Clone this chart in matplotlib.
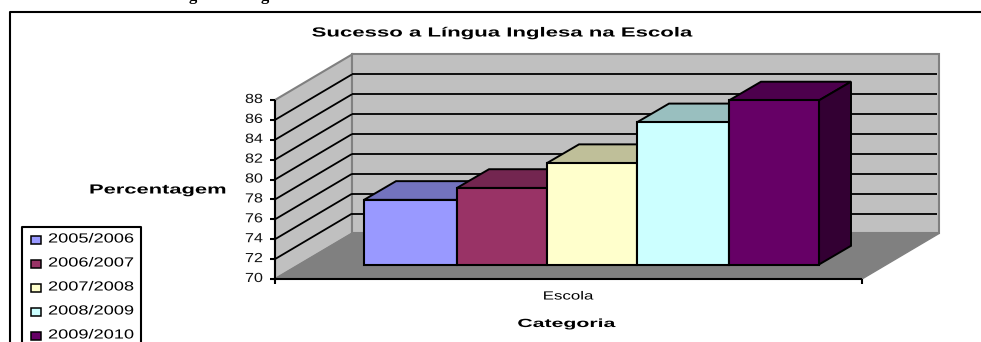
import matplotlib
matplotlib.use("Agg")
import matplotlib.pyplot as plt
from matplotlib.patches import Polygon, Rectangle
from matplotlib.patheffects import AbstractPathEffect
from matplotlib.transforms import Affine2D

W, H = 981, 342

seasons = ["2005/2006", "2006/2007", "2007/2008", "2008/2009", "2009/2010"]
values = [76.5, 77.7, 80.2, 84.3, 86.5]
bar_colors = ["#9999FF", "#993366", "#FFFFCC", "#CCFFFF", "#660066"]
top_colors = ["#7373BF", "#732650", "#BFBF99", "#99BFBF", "#4D004D"]
side_color = "#330033"
yticks = list(range(70, 90, 2))
category = "Escola"


class Stretch(AbstractPathEffect):
    # o texto original esta esticado na horizontal
    def __init__(self, sx, cx):
        super().__init__()
        self.sx, self.cx = sx, cx

    def draw_path(self, renderer, gc, tpath, affine, rgbFace=None):
        t = affine + Affine2D().translate(-self.cx, 0).scale(self.sx, 1).translate(self.cx, 0)
        renderer.draw_path(gc, tpath, t, rgbFace)


fig = plt.figure(figsize=(W / 100, H / 100), dpi=100, facecolor="white")
plt.rcParams["font.family"] = ["Liberation Sans", "DejaVu Sans"]

# eixo frontal: x 275..862 px, 70 em y=279 px, 88 em y=100 px
x0, x1, y70, y88 = 275, 862, 279, 100
ax = fig.add_axes([x0 / W, 1 - y70 / H, (x1 - x0) / W, (y70 - y88) / H])
ax.set_xlim(x0, x1)
ax.set_ylim(70, 88)
ax.axis("off")

unit = (y70 - y88) / 18.0
wall_dx = 77
wall_dy = 45.5 / unit


def P(x, v, d=0.0):
    # projeccao obliqua: d=0 frente, d=1 parede de tras
    return (x + d * wall_dx, v + d * wall_dy)


def poly(pts, fc, ec="black", lw=1.4, z=2):
    ax.add_patch(Polygon(pts, closed=True, fc=fc, ec=ec, lw=lw, zorder=z,
                         clip_on=False, joinstyle="miter"))


def line(a, b, c="black", lw=1.3, z=3):
    ax.plot([a[0], b[0]], [a[1], b[1]], color=c, lw=lw, zorder=z, clip_on=False,
            solid_capstyle="butt")


# paredes e chao
poly([P(x0, 70, 0), P(x0, 70, 1), P(x0, 88, 1), P(x0, 88, 0)], "#C0C0C0", "#808080", 1.5, 1)
poly([P(x0, 70, 1), P(x1, 70, 1), P(x1, 88, 1), P(x0, 88, 1)], "#C0C0C0", "#808080", 1.5, 1)
poly([P(x0, 70, 0), P(x1, 70, 0), P(x1, 70, 1), P(x0, 70, 1)], "#808080", "#808080", 1, 1.2)

for v in yticks[1:-1]:
    line(P(x0, v, 0), P(x0, v, 1), z=1.5)
    line(P(x0, v, 1), P(x1 - 2, v, 1), z=1.5)

# eixos
line(P(x0, 70), P(x1, 70), lw=1.5, z=6)
line(P(x0, 70), P(x0, 88), lw=1.5, z=6)
tick_px = 5 / unit
line((x0, 70), (x0, 70 - tick_px), lw=1.5, z=6)
line((x1, 70), (x1, 70 - tick_px), lw=1.5, z=6)
for v in yticks:
    line((x0 - 5, v), (x0, v), lw=1.5, z=6)
    t = ax.text(x0 - 12, v, str(v), ha="right", va="center", fontsize=9.5, color="#111111")
    t.set_path_effects([Stretch(1.22, x0 - 12)])

# barras
edges = [364, 457, 547, 637, 729, 819]
bar_base = 70 + 14.5 / unit
ddx = 32
ddy = 18.7 / unit
for i, val in enumerate(values):
    left, right = edges[i], edges[i + 1]
    fr = (right, bar_base)
    tl = (left, bar_base + val - 70)
    tr = (right, bar_base + val - 70)
    z = 2 + i * 0.1
    poly([tl, tr, (right + ddx, tr[1] + ddy), (left + ddx, tl[1] + ddy)], top_colors[i], z=z)
    poly([fr, tr, (right + ddx, tr[1] + ddy), (right + ddx, fr[1] + ddy)], side_color, z=z)
    ax.add_patch(Rectangle((left, bar_base), right - left, val - 70, fc=bar_colors[i],
                           ec="black", lw=1.5, zorder=z + 0.05, clip_on=False))


def ftext(px, py, s, size, weight="normal", ha="center", sx=1.0, family=None):
    t = fig.text(px / W, 1 - py / H, s, fontsize=size, fontweight=weight, ha=ha, va="center",
                 color="black", family=family)
    if sx != 1.0:
        t.set_path_effects([Stretch(sx, px)])
    return t


ftext(502, 33.5, "Sucesso a Língua Inglesa na Escola", 9.5, "bold", sx=1.68)
ftext(158, 190.5, "Percentagem", 9.5, "bold", sx=1.66)
ftext(568, 296.5, category, 8.5, sx=1.43)
ftext(566.5, 324, "Categoria", 8.5, "bold", sx=1.8)

# restos da linha de texto acima da moldura, cortada pelo topo da imagem
for gx in [193, 265]:
    fig.text(gx / W, 1.0, "g", fontsize=12, fontweight="bold", ha="center", va="baseline",
             family="Liberation Serif", color="black")

# moldura exterior (cortada a direita e em baixo)
fig.add_artist(plt.Line2D([9.5 / W, 9.5 / W, 1], [0, 1 - 11.5 / H, 1 - 11.5 / H], color="black", lw=1.5))

# legenda desenhada a mao, a caixa sai da imagem em baixo
fig.add_artist(plt.Line2D([21.5 / W, 21.5 / W, 140.5 / W, 140.5 / W],
                          [0, 1 - 227 / H, 1 - 227 / H, 0], color="black", lw=1.5))
leg_y = [239.5, 263.5, 287.5, 311.5, 335.5]
for s, c, py in zip(seasons, bar_colors, leg_y):
    fig.add_artist(Rectangle((31 / W, 1 - (py + 4.5) / H), 10 / W, 8 / H, fc=c, ec="black", lw=1.1,
                             transform=fig.transFigure))
    ftext(48, py, s, 9.5, ha="left", sx=1.38)

fig.savefig("out.png", dpi=100)
